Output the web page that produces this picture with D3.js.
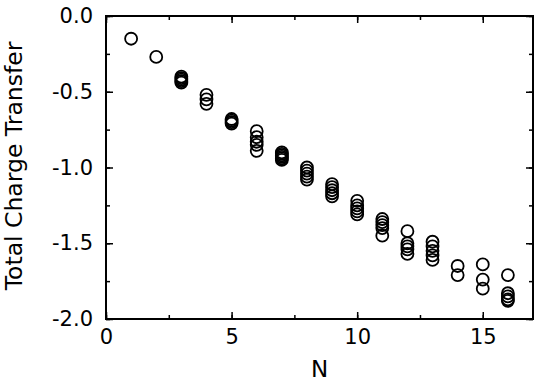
<!DOCTYPE html>
<html>
<head>
<meta charset="utf-8">
<script src="https://cdn.jsdelivr.net/npm/d3@7"></script>
<style>
  body { margin: 0; background: #fff; }
  svg { font-family: "DejaVu Sans", sans-serif; }
</style>
</head>
<body>
<div id="chart"></div>
<script>
// data: N and the charge values at each N
var nValues = [1, 2, 3, 4, 5, 6, 7, 8, 9, 10, 11, 12, 13, 14, 15, 16];
var chargeValues = [
  [-0.15],
  [-0.27],
  [-0.40, -0.41, -0.42, -0.43, -0.44],
  [-0.52, -0.55, -0.58],
  [-0.68, -0.69, -0.70, -0.71],
  [-0.76, -0.80, -0.83, -0.85, -0.89],
  [-0.90, -0.91, -0.92, -0.93, -0.94, -0.95],
  [-1.00, -1.02, -1.04, -1.06, -1.08],
  [-1.11, -1.13, -1.15, -1.17, -1.19],
  [-1.22, -1.25, -1.27, -1.29, -1.31],
  [-1.34, -1.36, -1.38, -1.40, -1.45],
  [-1.42, -1.50, -1.52, -1.54, -1.57],
  [-1.49, -1.52, -1.55, -1.58, -1.61],
  [-1.65, -1.71],
  [-1.64, -1.74, -1.80],
  [-1.71, -1.83, -1.85, -1.87, -1.88]
];
var xTicks = [0, 5, 10, 15];
var yTicks = [0, -0.5, -1.0, -1.5, -2.0];

var svgWidth = 539;
var svgHeight = 388;
var margin = { top: 16, right: 6, bottom: 69, left: 106 };
var chartWidth = svgWidth - margin.left - margin.right;
var chartHeight = svgHeight - margin.top - margin.bottom;

var svg = d3.select("#chart").append("svg")
  .attr("width", svgWidth)
  .attr("height", svgHeight);

var chartGroup = svg.append("g")
  .attr("transform", `translate(${margin.left}, ${margin.top})`);

var x = d3.scaleLinear().domain([0, 17]).range([0, chartWidth]);
var y = d3.scaleLinear().domain([-2, 0]).range([chartHeight, 0]);

var points = [];
nValues.forEach(function(n, i) {
  chargeValues[i].forEach(function(v) {
    points.push({ n: n, q: v });
  });
});

// inward ticks: major with labels, minor without
var xMinor = d3.range(0, 17.01, 2.5);
var yMinor = d3.range(-2, 0.001, 0.25);

function styleAxis(g) {
  g.select(".domain").remove();
  g.attr("font-family", null);
  g.selectAll(".tick line").attr("stroke", "#000").attr("stroke-width", 1.5);
  g.selectAll(".tick text").attr("fill", "#000").style("font-size", "21px");
}

chartGroup.append("g")
  .attr("transform", `translate(0, ${chartHeight})`)
  .call(d3.axisBottom(x).tickValues(xMinor).tickSize(-4).tickFormat(""))
  .call(styleAxis);
chartGroup.append("g")
  .attr("transform", `translate(0, ${chartHeight})`)
  .call(d3.axisBottom(x).tickValues(xTicks).tickSize(-7).tickPadding(10).tickFormat(d3.format("d")))
  .call(styleAxis);
chartGroup.append("g")
  .call(d3.axisTop(x).tickValues(xMinor).tickSize(-4).tickFormat(""))
  .call(styleAxis);
chartGroup.append("g")
  .call(d3.axisTop(x).tickValues(xTicks).tickSize(-7).tickFormat(""))
  .call(styleAxis);

chartGroup.append("g")
  .call(d3.axisLeft(y).tickValues(yMinor).tickSize(-4).tickFormat(""))
  .call(styleAxis);
chartGroup.append("g")
  .call(d3.axisLeft(y).tickValues(yTicks).tickSize(-7).tickPadding(13)
    .tickFormat(d => d3.format(".1f")(d).replace("\u2212", "-")))
  .call(styleAxis);
chartGroup.append("g")
  .attr("transform", `translate(${chartWidth}, 0)`)
  .call(d3.axisRight(y).tickValues(yMinor).tickSize(-4).tickFormat(""))
  .call(styleAxis);
chartGroup.append("g")
  .attr("transform", `translate(${chartWidth}, 0)`)
  .call(d3.axisRight(y).tickValues(yTicks).tickSize(-7).tickFormat(""))
  .call(styleAxis);

// frame
chartGroup.append("rect")
  .attr("width", chartWidth)
  .attr("height", chartHeight)
  .attr("fill", "none")
  .attr("stroke", "#000")
  .attr("stroke-width", 2);

chartGroup.selectAll("circle")
  .data(points)
  .enter()
  .append("circle")
  .attr("cx", d => x(d.n))
  .attr("cy", d => y(d.q))
  .attr("r", 6)
  .attr("fill", "none")
  .attr("stroke", "#000")
  .attr("stroke-width", 1.8);

svg.append("text")
  .attr("x", margin.left + chartWidth / 2)
  .attr("y", 377)
  .style("text-anchor", "middle")
  .style("font-size", "23px")
  .text("N");

svg.append("text")
  .attr("transform", "translate(22, " + (margin.top + 150) + ") rotate(-90)")
  .style("text-anchor", "middle")
  .style("font-size", "23.5px")
  .text("Total Charge Transfer");
</script>
</body>
</html>
